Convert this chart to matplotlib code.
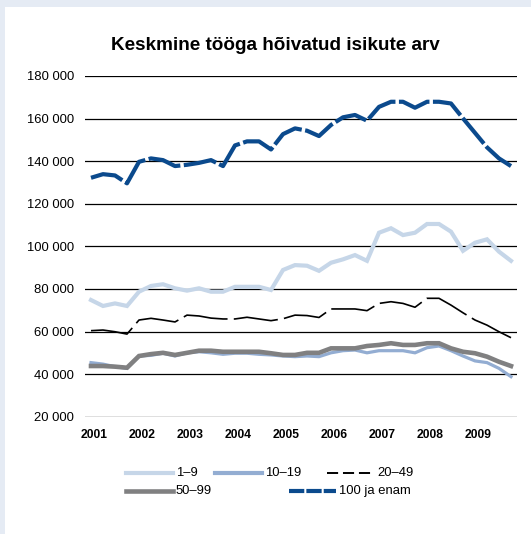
# Keskmine tööga hõivatud isikute arv, kvartalite kaupa 2001-2009

import numpy as np
import matplotlib
matplotlib.use("Agg")
import matplotlib.pyplot as plt
from matplotlib.lines import Line2D
from matplotlib.patches import Rectangle

plt.rcParams['font.family'] = ['Liberation Sans', 'DejaVu Sans']
plt.rcParams['lines.scale_dashes'] = False

# data, 2001 Q1 ... 2009 Q4
years = ['2001', '2002', '2003', '2004', '2005', '2006', '2007', '2008', '2009']
s_1_9 = [74800, 72000, 73200, 72000, 78700, 81400, 82200, 80300, 79200, 80300, 78700, 78700,
         81000, 81000, 81000, 79500, 88900, 91200, 90900, 88500, 92300, 93900, 95900, 93200,
         106400, 108500, 105300, 106400, 110500, 110500, 106900, 97900, 101700, 103300, 97500, 93200]
s_10_19 = [45400, 44700, 43500, 42700, 48500, 48800, 49800, 48500, 50000, 50500, 50000, 49300,
           49800, 49800, 49300, 49000, 48500, 48200, 48500, 48200, 50000, 51000, 51300, 50000,
           51000, 51000, 51000, 50000, 52400, 53200, 51000, 48500, 46200, 45400, 42700, 38800]
s_20_49 = [60400, 60700, 59900, 58800, 65400, 66200, 65400, 64500, 67700, 67300, 66300, 65900,
           65900, 66700, 65900, 65100, 66000, 67700, 67500, 66600, 70600, 70600, 70600, 69800,
           73200, 74000, 73200, 71400, 75600, 75600, 72400, 68800, 65400, 63000, 59900, 57100]
s_50_99 = [43800, 43800, 43500, 43000, 48500, 49400, 50000, 49000, 50000, 51000, 51000, 50500,
           50500, 50500, 50500, 49800, 49000, 49000, 50000, 50000, 52100, 52100, 52100, 53200,
           53700, 54500, 53700, 53700, 54500, 54500, 52100, 50500, 49800, 48200, 45800, 43800]
s_100 = [132200, 133900, 133300, 129600, 139700, 141300, 140500, 137700, 138300, 139200, 140500, 137700,
         147400, 149300, 149300, 145500, 152700, 155400, 154300, 151800, 157000, 160600, 161700, 159000,
         165500, 167900, 167900, 165100, 167900, 167900, 167100, 160100, 153300, 146500, 141300, 137700]
labels = ['1–9', '10–19', '20–49', '50–99', '100 ja enam']

c_1_9 = '#c6d6e8'
c_10_19 = '#93add2'
c_50_99 = '#808081'
c_100 = '#0b4a8d'

fig = plt.figure(figsize=(5.31, 5.34), dpi=100)
fig.patch.set_facecolor('#e5ebf4')
fig.add_artist(Rectangle((5 / 531, 0), 1, 1 - 7 / 534, transform=fig.transFigure,
                         facecolor='white', edgecolor='none', zorder=0))

ax = fig.add_axes([85 / 531, 1 - 416.7 / 534, 432 / 531, 340.7 / 534])
ax.set_facecolor('white')
x = np.arange(len(s_100))

ax.plot(x, s_1_9, color=c_1_9, lw=3.0, solid_joinstyle='miter', zorder=3)
ax.plot(x, s_10_19, color=c_10_19, lw=2.3, solid_joinstyle='miter', zorder=3)
ax.plot(x, s_50_99, color=c_50_99, lw=3.3, solid_joinstyle='miter', zorder=4)
ax.plot(x, s_20_49, color='black', lw=1.2, dashes=(32, 4.5), zorder=5)
ax.plot(x, s_100, color=c_100, lw=3.0, dashes=(24, 2.5), zorder=5)

ax.set_xlim(-0.5, len(x) - 0.5)
ax.set_ylim(20000, 180000)
ax.set_yticks(np.arange(20000, 180001, 20000))
ax.set_yticklabels([f'{v:,}'.replace(',', ' ') for v in range(20000, 180001, 20000)], fontsize=9.4)
ax.set_xticks(np.arange(0, len(x), 4) + 0.28)
ax.set_xticklabels(years, fontsize=8.7, fontweight='bold')
ax.tick_params(length=0)
ax.tick_params(axis='y', pad=8)
ax.tick_params(axis='x', pad=9)
ax.grid(axis='y', color='black', lw=0.9)
ax.set_axisbelow(True)
for s in ax.spines.values():
    s.set_visible(False)

fig.text(275 / 531, 1 - 45 / 534, 'Keskmine tööga hõivatud isikute arv',
         ha='center', va='center', fontsize=13.6, fontweight='bold')

# legend, placed like the original
entries = [
    (126, 473, dict(color=c_1_9, lw=3.0), labels[0]),
    (215, 473, dict(color=c_10_19, lw=3.0), labels[1]),
    (327, 473, dict(color='black', lw=1.4, dashes=(8, 3.5)), labels[2]),
    (126, 491, dict(color=c_50_99, lw=3.3), labels[3]),
    (289, 491, dict(color=c_100, lw=3.0, dashes=(11, 1.5)), labels[4]),
]
for px, py, style, lab in entries:
    yy = 1 - py / 534
    fig.add_artist(Line2D([px / 531, (px + 47) / 531], [yy, yy], transform=fig.transFigure, **style))
    fig.text((px + 50) / 531, yy, lab, ha='left', va='center', fontsize=9.4)

fig.savefig('out.png', dpi=100)
